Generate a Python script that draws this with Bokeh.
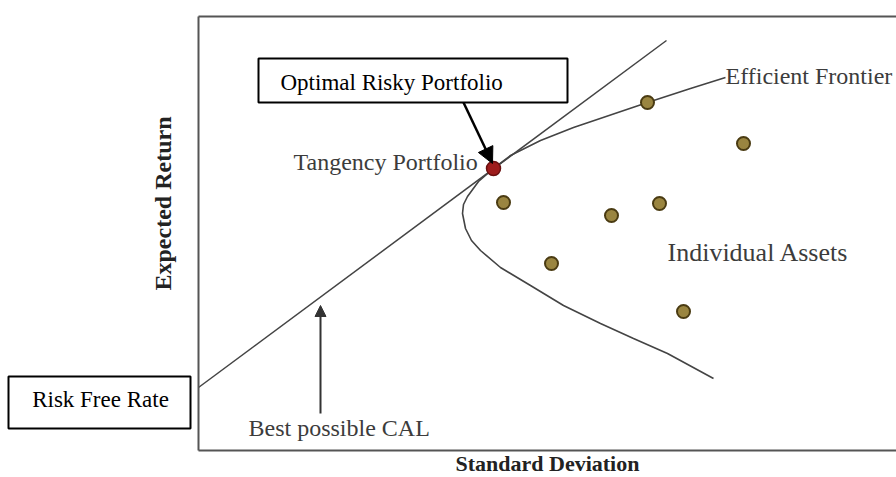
from bokeh.plotting import figure
from bokeh.models import Range1d, LinearAxis, FixedTicker, BoxAnnotation, Label, Arrow, NormalHead
from bokeh.embed import file_html
from bokeh.resources import INLINE
import math

# ---- data (standard deviation %, expected return %) ----
cal_sd = [0.0, 23.4]
cal_ret = [3.15, 20.5]

frontier_sd = [26.35, 24.6, 22.45, 18.75, 17.1, 15.6, 14.75, 14.0, 13.45, 13.25, 13.2,
               13.35, 13.65, 14.1, 15.1, 16.6, 18.25, 20.1, 21.75, 23.45, 25.75]
frontier_ret = [18.65, 18.1, 17.4, 16.15, 15.5, 14.75, 14.1, 13.45, 12.7, 12.3, 11.85,
                11.1, 10.5, 10.0, 9.15, 8.25, 7.25, 6.35, 5.6, 4.85, 3.6]

tangency_sd = [14.75]
tangency_ret = [14.1]

asset_sd = [15.25, 20.65, 23.05, 17.65, 22.45, 27.25, 24.25]
asset_ret = [12.4, 11.75, 12.35, 9.35, 17.4, 15.35, 6.95]

x_label = "Standard Deviation"
y_label = "Expected Return"

SERIF = "Liberation Serif"
GRAY = "#3c3c3c"

X_MAX = 34.9
Y_TOP = 21.7

p = figure(width=896, height=477, x_range=Range1d(-9.9, 34.9), y_range=Range1d(-1.35, 22.5),
           output_backend="svg", toolbar_location=None,
           min_border_left=0, min_border_right=0, min_border_top=0, min_border_bottom=0,
           x_axis_location=None, y_axis_location=None)
p.outline_line_color = None
p.grid.visible = False
p.background_fill_color = "white"
p.border_fill_color = "white"

def frame_axis(loc, bounds):
    ax = LinearAxis(ticker=FixedTicker(ticks=[]), fixed_location=loc, bounds=bounds)
    ax.axis_line_color = "#555555"
    ax.axis_line_width = 2
    ax.major_tick_line_color = None
    ax.minor_tick_line_color = None
    ax.major_tick_out = 0
    ax.major_label_standoff = 0
    ax.major_label_text_font_size = "0px"
    return ax

left_ax = frame_axis(0, (0, Y_TOP))
bottom_ax = frame_axis(0, (0, X_MAX))
top_ax = frame_axis(Y_TOP, (0, X_MAX))
bottom_ax.axis_label = x_label
bottom_ax.axis_label_text_font = SERIF
bottom_ax.axis_label_text_font_size = "22px"
bottom_ax.axis_label_text_font_style = "bold"
bottom_ax.axis_label_text_color = "#222222"
bottom_ax.axis_label_standoff = 0
p.add_layout(left_ax, "left")
p.add_layout(bottom_ax, "below")
p.add_layout(top_ax, "above")

# lines
p.line(cal_sd, cal_ret, line_color="#444444", line_width=1.5)
p.line(frontier_sd, frontier_ret, line_color="#444444", line_width=1.6)

# markers
p.scatter(asset_sd, asset_ret, size=13, fill_color="#9a8540", line_color="#4a3b12", line_width=2)
p.scatter(tangency_sd, tangency_ret, size=14, fill_color="#9e1c1c", line_color="#6b1010", line_width=1.5)

# boxes
for l, r, b, t in [(-9.5, -0.4, 1.1, 3.7), (3.0, 18.45, 17.4, 19.6)]:
    p.add_layout(BoxAnnotation(left=l, right=r, bottom=b, top=t,
                               fill_color="white", fill_alpha=1,
                               line_color="black", line_alpha=1, line_width=2,
                               level="annotation"))

def lab(text, x, y, size, color=GRAY, align="left", baseline="alphabetic", style="normal", angle=0):
    p.add_layout(Label(x=x, y=y, text=text, text_font=SERIF, text_font_size=size,
                       text_color=color, text_align=align, text_baseline=baseline,
                       text_font_style=style, angle=angle))

lab("Optimal Risky Portfolio", 4.1, 18.4, "23px", color="black")
lab("Risk Free Rate", -4.9, 2.55, "23px", color="black", align="center")
lab("Tangency Portfolio", 4.75, 14.45, "24px")
lab("Efficient Frontier", 26.35, 18.75, "24px")
lab("Individual Assets", 23.45, 9.9, "26px")
lab("Best possible CAL", 2.5, 1.15, "24px")
lab(y_label, -1.8, 12.35, "24px", color="#222222", align="center", baseline="middle",
    style="bold", angle=math.pi / 2)

# arrows
p.add_layout(Arrow(x_start=13.25, y_start=17.4, x_end=14.7, y_end=14.35, line_width=2.5,
                   line_color="black",
                   end=NormalHead(size=16, fill_color="black", line_color="black")))
p.add_layout(Arrow(x_start=6.1, y_start=1.85, x_end=6.1, y_end=7.25, line_width=2,
                   line_color="#333333",
                   end=NormalHead(size=11, fill_color="#333333", line_color="#333333")))

open("out.html", "w").write(file_html(p, INLINE))
